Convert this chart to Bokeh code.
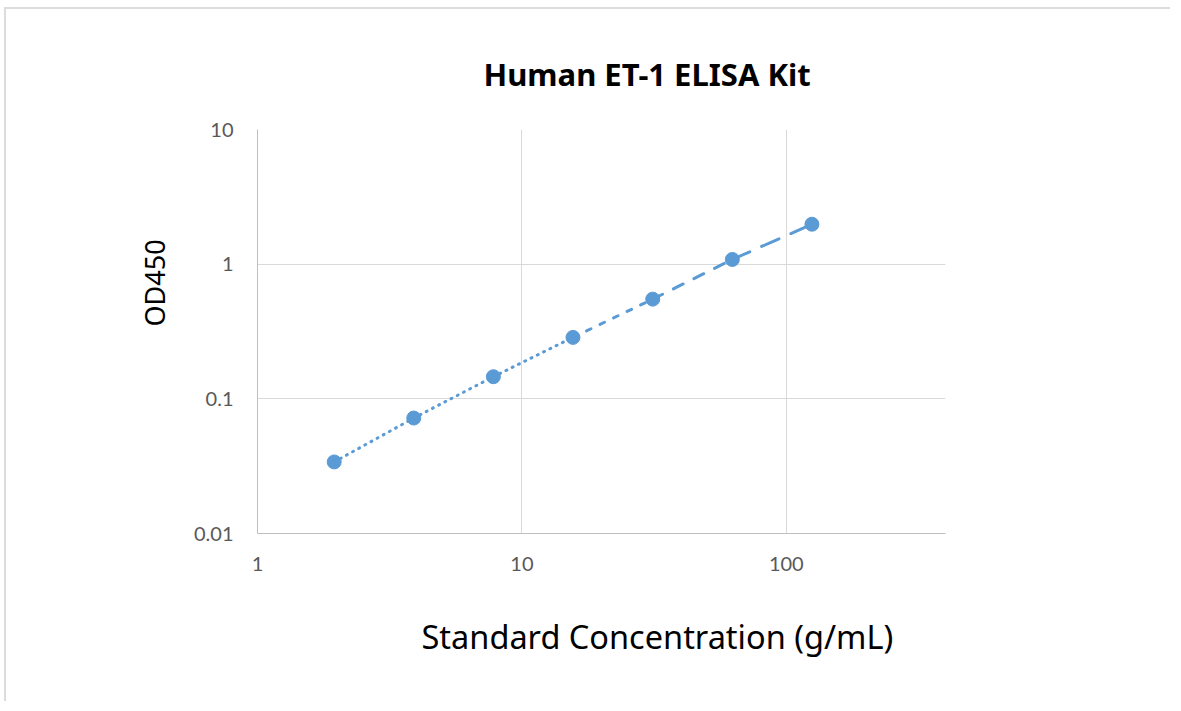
from bokeh.plotting import figure
from bokeh.models import FixedTicker, Title
from bokeh.embed import file_html
from bokeh.resources import INLINE

# ---------------- data ----------------
concentration = [1.95, 3.9, 7.8, 15.6, 31.25, 62.5, 125.0]
od450 = [0.034, 0.072, 0.146, 0.286, 0.55, 1.084, 1.98]
x_ticks = [1, 10, 100]
x_tick_labels = ["1", "10", "100"]
y_ticks = [0.01, 0.1, 1, 10]
y_tick_labels = ["0.01", "0.1", "1", "10"]
title_text = "Human ET-1 ELISA Kit"
x_title = "Standard Concentration (g/mL)"
y_title = "OD450"

# ---------------- styling ----------------
BLUE = "#5B9BD5"
GRID = "#D9D9D9"
AXIS = "#BFBFBF"
TICK_TXT = "#595959"
seg_dash = ["1 6", "1 6", "1 6", "5 10", "11 12", "19 13"]

p = figure(
    x_axis_type="log", y_axis_type="log",
    x_range=(1, 400), y_range=(0.01, 10),
    frame_width=688, frame_height=404,
    min_border_left=251, min_border_right=230,
    min_border_top=120, min_border_bottom=170,
    output_backend="svg", toolbar_location=None,
)
p.styles = {"margin-left": "6px", "margin-top": "9px",
            "box-shadow": "-2px -2px 0px 0px #DCDCDC",
            "clip-path": "polygon(-3px -3px, calc(100% - 5px) -3px, "
                         "calc(100% - 5px) 100%, -3px 100%)"}
p.outline_line_color = None
p.background_fill_color = "white"
p.border_fill_color = "white"

# axes
p.xaxis.ticker = FixedTicker(ticks=x_ticks)
p.yaxis.ticker = FixedTicker(ticks=y_ticks)
p.xaxis.major_label_overrides = dict(zip(x_ticks, x_tick_labels))
p.yaxis.major_label_overrides = dict(zip(y_ticks, y_tick_labels))
for ax in (p.xaxis, p.yaxis):
    ax.axis_line_color = AXIS
    ax.axis_line_width = 1
    ax.major_tick_line_color = None
    ax.minor_tick_line_color = None
    ax.major_label_text_font = "Lato"
    ax.major_label_text_font_size = "20px"
    ax.major_label_text_color = TICK_TXT
p.yaxis.major_label_standoff = 18
p.xaxis.major_label_standoff = 17

# grid
p.xgrid.ticker = FixedTicker(ticks=x_ticks)
p.ygrid.ticker = FixedTicker(ticks=y_ticks)
p.xgrid.grid_line_color = GRID
p.ygrid.grid_line_color = GRID
p.xgrid.grid_line_width = 1
p.ygrid.grid_line_width = 1

# series line: one segment per consecutive pair of points
for i in range(len(concentration) - 1):
    p.line(concentration[i:i + 2], od450[i:i + 2], line_color=BLUE,
           line_width=3, line_dash=seg_dash[i], line_cap="round")
p.scatter(concentration, od450, size=14, fill_color=BLUE, line_color=BLUE)

# titles
p.title.text = title_text
p.title.align = "left"
p.title.offset = 226
p.title.standoff = 70
p.title.text_font = "Noto Sans"
p.title.text_font_style = "bold"
p.title.text_font_size = "31px"
p.title.text_color = "black"

p.add_layout(Title(text=x_title, align="left", offset=164, standoff=76,
                   text_font="Noto Sans", text_font_style="normal",
                   text_font_size="32.5px", text_color="black"), "below")
p.add_layout(Title(text=y_title, align="left", offset=207, standoff=36,
                   text_font="Noto Sans", text_font_style="normal",
                   text_font_size="27px", text_color="black"), "left")

open("out.html", "w").write(file_html(p, INLINE))
